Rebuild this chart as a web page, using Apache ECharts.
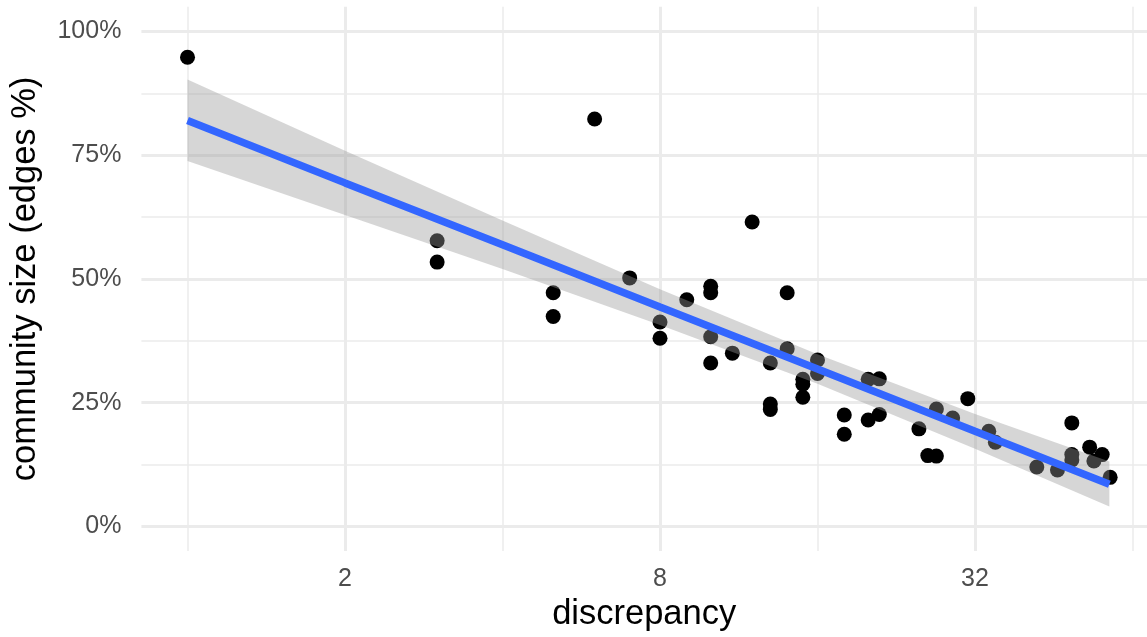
<!DOCTYPE html>
<html>
<head>
<meta charset="utf-8">
<title>community size vs discrepancy</title>
<script src="https://cdn.jsdelivr.net/npm/echarts@6/dist/echarts.min.js"></script>
<style>
  html, body { margin: 0; padding: 0; background: #ffffff; }
  #chart { width: 1147px; height: 637px; }
</style>
</head>
<body>
<div id="chart"></div>
<script>
// Observations: discrepancy (x, log2 scale) and community size (% of edges)
const discrepancy = [
  1, 3, 3, 5, 5, 6, 7, 8, 8, 9,
  10, 10, 10, 10, 11, 12, 13, 13, 13, 14,
  14, 15, 15, 15, 16, 16, 18, 18, 20, 21,
  20, 21, 25, 26, 27, 27, 29, 31, 34, 35,
  42, 46, 49, 49, 49, 53, 54, 56, 58
];
const communitySize = [
  94.8, 57.7, 53.4, 47.2, 42.4, 82.3, 50.2, 41.3, 38.0, 45.8,
  48.5, 47.2, 38.3, 33.0, 35.0, 61.5, 33.0, 24.7, 23.6, 47.2,
  35.9, 29.7, 28.7, 26.1, 33.6, 30.9, 22.5, 18.6, 29.7, 29.8,
  21.5, 22.6, 19.7, 14.3, 14.2, 23.7, 21.9, 25.8, 19.2, 17.0,
  12.0, 11.4, 20.9, 14.5, 13.4, 16.0, 13.2, 14.5, 9.9
];

// Linear fit (on log2 x) with its 95% confidence band
const fitX    = [1, 2, 4, 8, 16, 32, 57.8];
const fitMid  = [82.0, 69.4, 56.9, 44.3, 31.8, 19.2, 8.5];
const fitLow  = [73.8, 62.9, 52.0, 40.7, 28.8, 15.7, 4.0];
const fitHigh = [90.3, 75.9, 61.8, 47.9, 34.8, 22.7, 13.1];

// Axis ticks and gridlines
const xTicks = [2, 8, 32];
const xMinorGrid = [1, 4, 16, 64];
const yTicks = [0, 25, 50, 75, 100];
const yMinorGrid = [12.5, 37.5, 62.5, 87.5];

const FONT = '"Liberation Sans", Arial, Helvetica, sans-serif';
const GRID_COLOR = '#EBEBEB';

const points = discrepancy.map((x, i) => [x, communitySize[i]]);

function gridLines() {
  const lines = [];
  xTicks.forEach(v => lines.push({ xAxis: v, lineStyle: { width: 3 } }));
  xMinorGrid.forEach(v => lines.push({ xAxis: v, lineStyle: { width: 1.5 } }));
  yTicks.forEach(v => lines.push({ yAxis: v, lineStyle: { width: 3 } }));
  yMinorGrid.forEach(v => lines.push({ yAxis: v, lineStyle: { width: 1.5 } }));
  return lines;
}

const chart = echarts.init(document.getElementById('chart'), null, { renderer: 'canvas' });

chart.setOption({
  animation: false,
  backgroundColor: '#ffffff',
  grid: { left: 141.4, top: 6.7, right: 0, bottom: 85.2, containLabel: false },
  xAxis: {
    type: 'log',
    logBase: 2,
    min: Math.pow(2, -0.2927),
    max: Math.pow(2, 6.092),
    name: 'discrepancy',
    nameLocation: 'middle',
    nameGap: 40,
    nameTextStyle: { fontFamily: FONT, fontSize: 34.5, color: '#000000' },
    axisLine: { show: false },
    axisTick: { show: false },
    splitLine: { show: false },
    minorSplitLine: { show: false },
    axisLabel: {
      customValues: xTicks,
      formatter: v => String(Math.round(v)),
      fontFamily: FONT, fontSize: 25, color: '#4D4D4D', margin: 16
    }
  },
  yAxis: {
    type: 'value',
    min: -5,
    max: 105,
    name: 'community size (edges %)',
    nameLocation: 'middle',
    nameGap: 98,
    nameTextStyle: { fontFamily: FONT, fontSize: 34.5, color: '#000000' },
    axisLine: { show: false },
    axisTick: { show: false },
    splitLine: { show: false },
    axisLabel: {
      customValues: yTicks,
      formatter: v => Math.round(v) + '%',
      fontFamily: FONT, fontSize: 25, color: '#4D4D4D', margin: 20
    }
  },
  series: [
    {
      // panel gridlines
      type: 'scatter',
      data: [],
      silent: true,
      z: 0,
      markLine: {
        silent: true,
        z: 0,
        symbol: ['none', 'none'],
        label: { show: false },
        lineStyle: { color: GRID_COLOR, type: 'solid' },
        emphasis: { disabled: true },
        data: gridLines()
      }
    },
    {
      type: 'scatter',
      data: points,
      symbol: 'circle',
      symbolSize: 15,
      itemStyle: { color: '#000000', opacity: 1 },
      z: 2
    },
    {
      // confidence band
      type: 'custom',
      z: 3,
      silent: true,
      data: fitX.map((x, i) => [x, fitLow[i], fitHigh[i]]),
      encode: { x: 0, y: [1, 2] },
      renderItem: (params, api) => {
        if (params.dataIndex !== 0) return null;
        const pts = [];
        for (let i = 0; i < fitX.length; i++) pts.push(api.coord([fitX[i], fitHigh[i]]));
        for (let i = fitX.length - 1; i >= 0; i--) pts.push(api.coord([fitX[i], fitLow[i]]));
        return {
          type: 'polygon',
          shape: { points: pts },
          style: { fill: 'rgba(153,153,153,0.4)' }
        };
      }
    },
    {
      type: 'line',
      data: fitX.map((x, i) => [x, fitMid[i]]),
      showSymbol: false,
      symbol: 'none',
      lineStyle: { color: '#3366FF', width: 7.5, cap: 'butt' },
      z: 4,
      silent: true
    }
  ]
});
</script>
</body>
</html>
